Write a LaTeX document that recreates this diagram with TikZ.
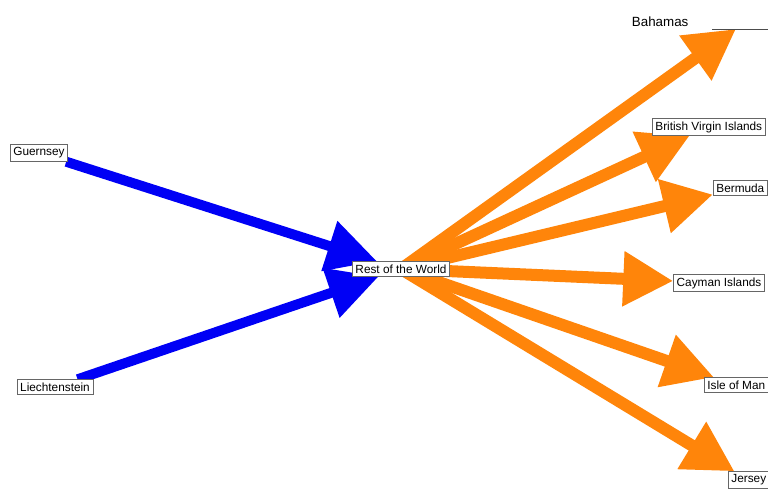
\documentclass[tikz,border=0pt]{standalone}
\usepackage{fontspec}
\setmainfont{Liberation Sans}
\usetikzlibrary{arrows.meta, backgrounds}
\definecolor{flowblue}{RGB}{0,0,245}
\definecolor{floworange}{RGB}{255,133,10}
\tikzset{
    country/.style={draw=gray!80!black, fill=white, thin, inner sep=2.2pt,
        font=\fontsize{8.4}{9}\selectfont},
    inflow/.style={flowblue, line width=0.25cm,
        -{Triangle[length=1.25cm, width=1.25cm]}},
    outflow/.style={floworange, line width=0.3cm,
        -{Triangle[length=1.25cm, width=1.3cm]}}
}

\begin{document}
\begin{tikzpicture}[x=0.025cm, y=-0.025cm]
    \clip (0,0) rectangle (768,488);

    % Countries
    \node[country] (rest) at (401,269) {Rest of the World};
    \node[country] (guernsey) at (39,153) {Guernsey};
    \node[country] (liecht) at (55,387) {Liechtenstein};
    \node[country, anchor=west] (bvi) at (652,127) {British Virgin Islands};
    \node[country, anchor=west] (bermuda) at (713,188) {Bermuda};
    \node[country] (cayman) at (719,283) {Cayman Islands};
    \node[country, anchor=west] (iom) at (704,385) {Isle of Man};
    \node[country, anchor=west] (jersey) at (728,480) {Jersey};
    \node[font=\fontsize{9.5}{10}\selectfont, anchor=west] (bahamas) at (627,22) {Bahamas};
    \coordinate (bahtip) at (736,29);
    \coordinate (bahline) at (712,29);
    \draw[gray!60!black, thin] (bahline) -- (768,29);

    % Flows
    \begin{scope}[on background layer]
        \draw[inflow] (guernsey) -- (rest);
        \draw[inflow] (liecht) -- (rest);
        \foreach \dest in {bahtip, bvi, bermuda, cayman, iom, jersey}
            \draw[outflow] (rest.center) -- (\dest);
    \end{scope}
\end{tikzpicture}
\end{document}
